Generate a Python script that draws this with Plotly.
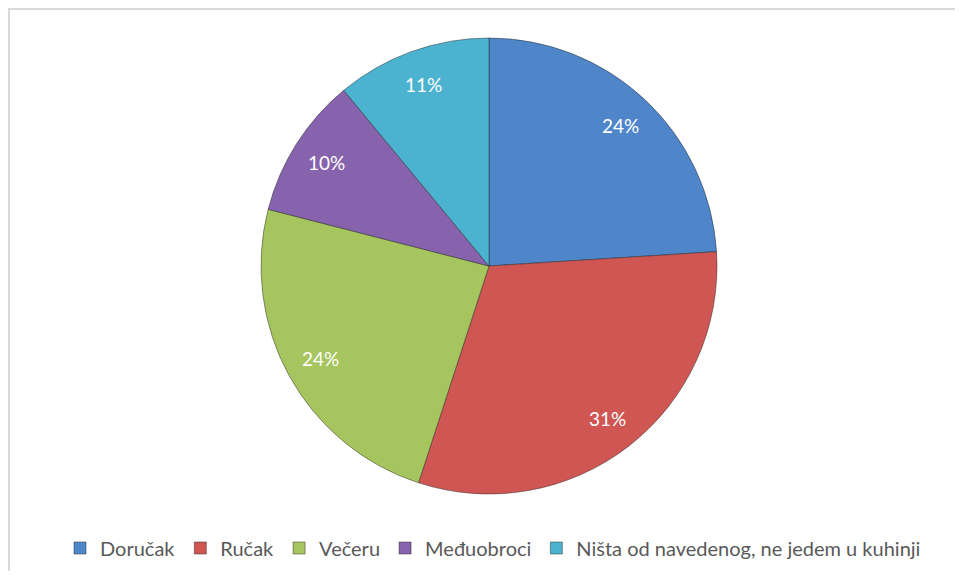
import math
import plotly.graph_objects as go

categories = ["Doručak", "Ručak", "Večeru", "Međuobroci", "Ništa od navedenog, ne jedem u kuhinji"]
values = [24, 31, 24, 10, 11]
colors = ["#4F86C9", "#CF5653", "#A6C55E", "#8663AC", "#4BB3CF"]

# page has an 8px body margin; figure coordinates are page coordinates minus 8
OFF = 8
W, H = 963 - 2 * OFF, 579 - 2 * OFF
cx, cy, R = 489 - OFF, 266 - OFF, 228
LABEL_R = 0.845 * R

fig = go.Figure(go.Pie(
    labels=categories,
    values=values,
    sort=False,
    direction="clockwise",
    rotation=0,
    marker=dict(colors=colors, line=dict(color="rgba(30,30,30,0.45)", width=1)),
    textinfo="none",
    domain=dict(x=[(cx - R) / W, (cx + R) / W], y=[(H - cy - R) / H, (H - cy + R) / H]),
    hoverinfo="label+percent",
))

# percentage labels placed at the mid-angle of each slice, near the outer edge
total = sum(values)
annotations = []
cum = 0
for v in values:
    mid = (cum + v / 2) / total * 2 * math.pi
    cum += v
    px = cx + LABEL_R * math.sin(mid)
    py = cy - LABEL_R * math.cos(mid)
    annotations.append(dict(
        x=px / W, y=(H - py) / H, xref="paper", yref="paper",
        text=f"{round(v / total * 100)}%", showarrow=False,
        xanchor="center", yanchor="middle",
        font=dict(family="Lato, Open Sans, sans-serif", size=19, color="white"),
    ))

fig.update_layout(
    width=W, height=H,
    margin=dict(l=0, r=0, t=0, b=0),
    paper_bgcolor="white",
    plot_bgcolor="white",
    showlegend=True,
    legend=dict(
        orientation="h",
        x=(493 - OFF) / W, xanchor="center",
        y=(H - (548 - OFF)) / H, yanchor="middle",
        font=dict(family="Lato, Open Sans, sans-serif", size=20, color="#595959"),
        traceorder="normal",
    ),
    annotations=annotations,
    shapes=[dict(
        type="rect", xref="paper", yref="paper",
        x0=1 / W, x1=1.05, y0=-0.05, y1=(H - 1) / H,
        line=dict(color="#D9D9D9", width=2), fillcolor="rgba(0,0,0,0)", layer="below",
    )],
)

fig.write_html("out.html")
